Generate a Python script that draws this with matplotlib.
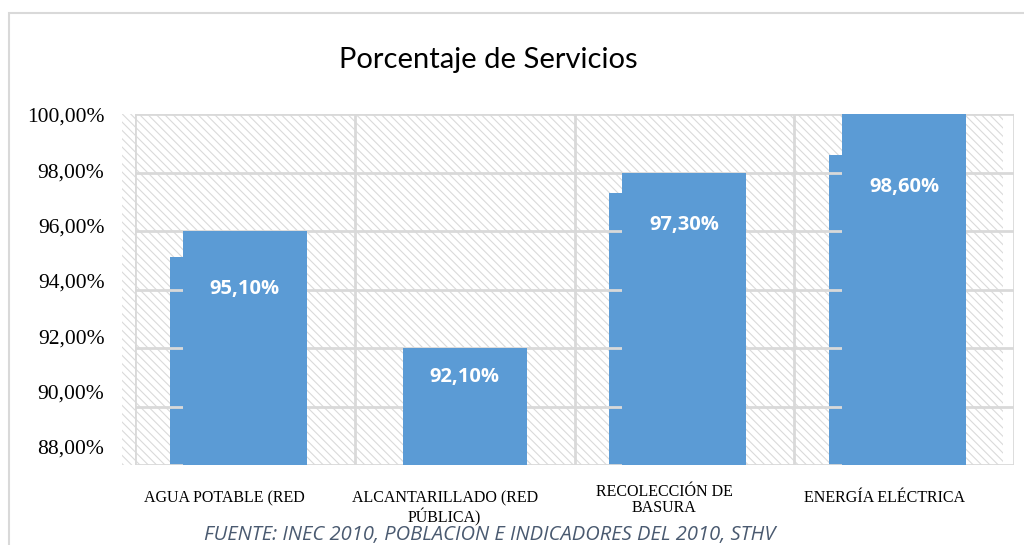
import matplotlib

matplotlib.use("Agg")
import matplotlib.pyplot as plt
from matplotlib.patches import Rectangle
from matplotlib.transforms import ScaledTranslation, blended_transform_factory

# data
categories = ["AGUA POTABLE (RED", "ALCANTARILLADO (RED\nPÚBLICA)", "RECOLECCIÓN DE\nBASURA", "ENERGÍA ELÉCTRICA"]
values = [95.1, 92.1, 97.3, 98.6]
cover_tops = [96.0, 92.0, 98.0, 100.0]
value_labels = ["95,10%", "92,10%", "97,30%", "98,60%"]
y_ticks = [88, 90, 92, 94, 96, 98, 100]
y_tick_labels = ["88,00%", "90,00%", "92,00%", "94,00%", "96,00%", "98,00%", "100,00%"]

BAR = "#5B9BD5"
GRID = "#D9D9D9"

plt.rcParams["hatch.color"] = "#DADADA"
plt.rcParams["hatch.linewidth"] = 0.8

W, H = 1024, 545
fig = plt.figure(figsize=(W / 100, H / 100), dpi=100)

# outer frame of the chart
fig.patches.append(Rectangle((9 / W, -0.2), 1.2, 1.2 - 13 / H, transform=fig.transFigure,
                             fill=False, edgecolor=GRID, linewidth=1.5))

ax = fig.add_axes([135 / W, (H - 465) / H, 879 / W, 351 / H])
ax.set_xlim(-0.5, len(categories) - 0.5)
ax.set_ylim(88, 100)
for s in ax.spines.values():
    s.set_visible(False)
ax.set_xticks([])
ax.set_yticks([])
ax.patch.set_alpha(0)

# hatched plot area (shifted left like a 3D wall)
ax.add_patch(Rectangle((-13 / 879, 0), (1003 - 122) / 879, 1.0, transform=ax.transAxes,
                       facecolor="white", edgecolor="#DADADA", linewidth=0, hatch="\\\\\\\\",
                       clip_on=False, zorder=0))

x = list(range(len(categories)))
# original bars at the true value (hidden where the cover bar is taller)
step_heights = [v if v < c else 0 for v, c in zip(values, cover_tops)]
ax.bar([i - 0.03 for i in x], step_heights, width=0.623, bottom=0, color=BAR, zorder=1)
# grid
for v in y_ticks:
    ax.axhline(v, color=GRID, linewidth=2, zorder=2)
for b in [i - 0.5 for i in range(len(categories) + 1)]:
    ax.axvline(b, color=GRID, linewidth=2, zorder=2)
# cover bars reaching the gridline
ax.bar(x, cover_tops, width=0.564, color=BAR, zorder=3)

for i, (v, lab) in enumerate(zip(values, value_labels)):
    ax.annotate(lab, (i, v), xytext=(0, -32), textcoords="offset pixels", ha="center", va="center",
                color="white", fontsize=14.5, fontweight="bold", family="Open Sans", zorder=5)

# category labels below the plot
trans = blended_transform_factory(ax.transData, ax.transAxes)
label_y = [-0.071, -0.071, -0.055, -0.072]
spacing = [1.15, 1.15, 0.95, 1.0]
for i, (cat, ly, ls) in enumerate(zip(categories, label_y, spacing)):
    ax.text(i, ly, cat, transform=trans + ScaledTranslation(-0.2, 0, fig.dpi_scale_trans),
            ha="center", va="top", fontsize=11.5, family="Liberation Serif", linespacing=ls)

# y tick labels (separate overlay, slightly off the gridlines)
lab_ax = fig.add_axes([135 / W, (H - 447) / H, 0.01, (447 - 115) / H])
lab_ax.set_ylim(88, 100)
lab_ax.set_yticks(y_ticks)
lab_ax.set_yticklabels(y_tick_labels, family="Liberation Serif", fontsize=15.5)
lab_ax.tick_params(axis="y", length=0, pad=22)
lab_ax.set_xticks([])
for s in lab_ax.spines.values():
    s.set_visible(False)
lab_ax.patch.set_alpha(0)

fig.text(488 / W, (H - 60) / H, "Porcentaje de Servicios", ha="center", va="center",
         fontsize=21, family="Lato", color="#000000")

fig.text(490 / W, 5 / H, "FUENTE: INEC 2010, POBLACION E INDICADORES DEL 2010, STHV",
         ha="center", va="baseline", fontsize=14.5, family="Open Sans", style="italic", color="#4A5A70")

fig.savefig("out.png", dpi=100)
